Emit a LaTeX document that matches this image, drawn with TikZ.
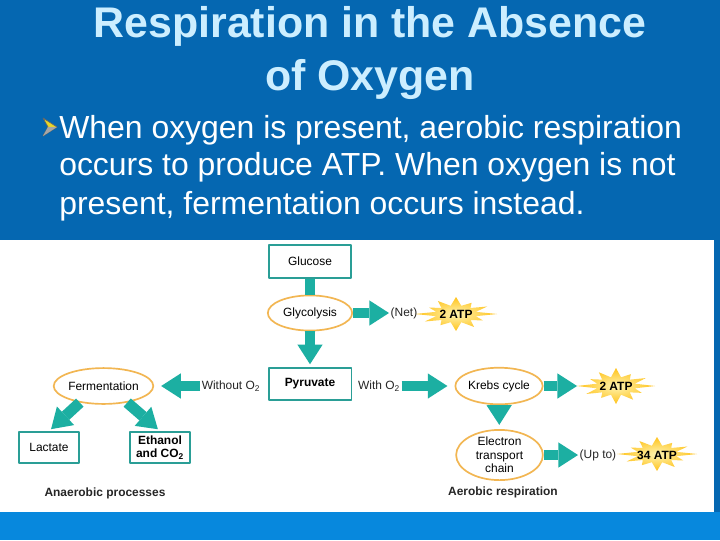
\documentclass[tikz,border=0pt]{standalone}
\usepackage{fontspec}
\setmainfont{Liberation Sans}
\usetikzlibrary{arrows.meta,shapes.geometric,calc}

\definecolor{slideblue}{HTML}{0567B1}
\definecolor{bandblue}{HTML}{0788DD}
\definecolor{titlecyan}{HTML}{CCEEFF}
\definecolor{flowteal}{HTML}{1CAFA2}
\definecolor{boxteal}{HTML}{2A9E96}
\definecolor{ringorange}{HTML}{F2B652}
\definecolor{burstgold}{HTML}{FFC21A}
\definecolor{burstpale}{HTML}{FFF4B0}
\definecolor{bulletyellow}{HTML}{E6D62A}

\begin{document}
\begin{tikzpicture}[
  x=0.025cm,y=-0.025cm,
  line join=round,
  box/.style={draw=boxteal,line width=1.4pt,fill=white,inner sep=1pt,align=center,
    font=\fontsize{8.5}{9.5}\selectfont},
  stage/.style={ellipse,draw=ringorange,line width=1.2pt,fill=white,inner sep=0pt,align=center,
    font=\fontsize{8.5}{9.5}\selectfont},
  note/.style={inner sep=1pt,text=black!85,font=\fontsize{8.5}{9.5}\selectfont},
  atp/.style={inner sep=0pt,minimum height=22pt,font=\bfseries\fontsize{8.5}{9.5}\selectfont},
  burst/.style={inner color=burstpale,outer color=burstgold},
  stem/.style={draw=flowteal,line width=7.8pt},
  flow/.style={draw=flowteal,line width=7.8pt,-{Triangle[length=14pt,width=18pt,line width=0pt]}},
  headline/.style={anchor=base,text=titlecyan,font=\bfseries\fontsize{30.5}{36}\selectfont},
  bodyline/.style={anchor=base west,text=white,inner sep=0pt,font=\fontsize{22.7}{26}\selectfont}
]
\useasboundingbox (0,0) rectangle (720,540);

% slide background
\fill[slideblue] (0,0) rectangle (720,540);
\fill[bandblue] (0,512) rectangle (720,540);
\fill[white] (0,240) rectangle (714,512);

% title and bullet text
\node[headline] (title1) at (370,37) {Respiration in the Absence};
\node[headline] (title2) at (370,90) {of Oxygen};
\filldraw[fill=bulletyellow,draw=black!60,line width=0.5pt]
  (43,118) -- (57,127) -- (43,136) -- (48,127) -- cycle;
\fill[black!35] (48,127) -- (57,127) -- (43,136) -- cycle;
\node[bodyline] (line1) at (59,138.5) {When oxygen is present, aerobic respiration};
\node[bodyline] (line2) at (59,175.5) {occurs to produce ATP. When oxygen is not};
\node[bodyline] (line3) at (59,214.5) {present, fermentation occurs instead.};

% ATP starbursts
\foreach \cx/\cy/\rx/\ry in {456/314/41/17, 616/386/39/18, 657/454/40/17}
  \shade[burst] plot[variable=\k,samples at={0,...,23}]
    ({\cx+\rx*((1-mod(\k,2))*(1-0.12*mod(\k,3))+0.5*mod(\k,2))*cos(\k*15)},
     {\cy+\ry*((1-mod(\k,2))*(1-0.12*mod(\k,3))+0.5*mod(\k,2))*sin(\k*15)}) -- cycle;

% glycolysis column
\node[box,minimum width=58pt,minimum height=23.4pt] (glucose) at (310,261.5) {Glucose};
\node[stage,minimum width=60pt,minimum height=25pt] (glyco) at (310,313) {Glycolysis};
\node[box,minimum width=59pt,minimum height=22.7pt,font=\bfseries\fontsize{8.5}{9.5}\selectfont]
  (pyruvate) at (310,384) {Pyruvate};
\node[note,anchor=west] (net) at (389,313) {(Net)};
\node[atp,minimum width=58pt] (atpa) at (456,314) {2 ATP};

% anaerobic side
\node[note] (without) at (231,386) {Without O\textsubscript{2}};
\node[stage,minimum width=61.7pt,minimum height=25.5pt] (ferm) at (103.5,386) {Fermentation};
\node[box,minimum width=42.5pt,minimum height=22pt] (lactate) at (49,447.5) {Lactate};
\node[box,minimum width=42.5pt,minimum height=22pt,font=\bfseries\fontsize{8.5}{9.5}\selectfont]
  (ethanol) at (160,447.5) {Ethanol\\and CO\textsubscript{2}};
\node[note,font=\bfseries\fontsize{8.5}{9.5}\selectfont] (anaerobic) at (105,493) {Anaerobic processes};

% aerobic side
\node[note] (with) at (379,386) {With O\textsubscript{2}};
\node[stage,minimum width=61pt,minimum height=26pt] (krebs) at (499,386) {Krebs cycle};
\node[atp,minimum width=55pt] (atpb) at (616,386) {2 ATP};
\node[stage,minimum width=61.7pt,minimum height=32pt] (etc) at (499.5,455)
  {Electron\\transport\\chain};
\node[note,anchor=west] (upto) at (578,455) {(Up to)};
\node[atp,minimum width=57pt] (atpc) at (657,455) {34 ATP};
\node[note,font=\bfseries\fontsize{8.5}{9.5}\selectfont] (aerobic) at (503,492) {Aerobic respiration};

% block arrows
\draw[stem] (glucose) -- (glyco);
\draw[flow,shorten >=2pt] (glyco) -- (pyruvate);
\draw[flow] (glyco) -- (net);
\draw[flow,shorten >=5pt] (without) -- (ferm);
\draw[flow,shorten >=2pt] (ferm.215) -- (lactate.north);
\draw[flow,shorten >=2pt] (ferm.325) -- (ethanol.north);
\draw[flow,shorten >=5pt] (with) -- (krebs);
\draw[flow] (krebs) -- (atpb);
\draw[flow,shorten >=3pt] (krebs) -- (etc);
\draw[flow] (etc) -- (upto);

\end{tikzpicture}
\end{document}
